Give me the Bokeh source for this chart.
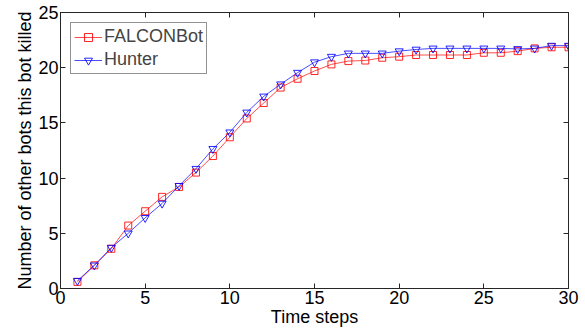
from bokeh.plotting import figure
from bokeh.models import LinearAxis, FixedTicker, Range1d, Legend, LegendItem
from bokeh.embed import file_html
from bokeh.resources import INLINE

steps = list(range(1, 31))
falconbot = [0.6, 2.1, 3.6, 5.7, 7.0, 8.3, 9.2, 10.5, 12.0, 13.7,
             15.4, 16.8, 18.2, 19.0, 19.7, 20.3, 20.6, 20.65, 20.9, 21.0,
             21.15, 21.15, 21.15, 21.15, 21.35, 21.35, 21.5, 21.75, 21.85, 21.85]
hunter = [0.7, 2.1, 3.7, 5.0, 6.4, 7.7, 9.3, 10.85, 12.65, 14.15,
          15.95, 17.4, 18.5, 19.55, 20.5, 21.0, 21.3, 21.3, 21.3, 21.5,
          21.65, 21.75, 21.75, 21.75, 21.75, 21.75, 21.7, 21.75, 22.0, 22.0]
x_ticks = [0, 5, 10, 15, 20, 25, 30]
y_ticks = [0, 5, 10, 15, 20, 25]

FONT = "Liberation Sans"
AXC = "#262626"

p = figure(frame_width=508, frame_height=276, output_backend="svg",
           toolbar_location=None, x_range=Range1d(0, 30), y_range=Range1d(0, 25),
           min_border_left=60, min_border_top=12, min_border_right=17,
           min_border_bottom=43)
p.background_fill_color = "white"
p.border_fill_color = "white"
p.outline_line_color = AXC
p.grid.visible = False

p.xaxis.ticker = FixedTicker(ticks=x_ticks)
p.yaxis.ticker = FixedTicker(ticks=y_ticks)
p.xaxis.axis_label = "Time steps"
p.yaxis.axis_label = "Number of other bots this bot killed"

for ax in [p.xaxis[0], p.yaxis[0]]:
    ax.major_tick_in = 5
    ax.major_tick_out = 0
    ax.minor_tick_line_color = None
    ax.axis_line_color = AXC
    ax.major_tick_line_color = AXC
    ax.major_label_text_font = FONT
    ax.major_label_text_font_size = "18px"
    ax.major_label_text_color = "black"
    ax.axis_label_text_font = FONT
    ax.axis_label_text_font_size = "18px"
    ax.axis_label_text_font_style = "normal"
    ax.axis_label_text_color = "black"
    ax.major_label_standoff = 2
    ax.axis_label_standoff = 0

top = LinearAxis(ticker=FixedTicker(ticks=x_ticks), major_tick_in=5, major_tick_out=0,
                 minor_tick_line_color=None, axis_line_color=AXC,
                 major_tick_line_color=AXC, major_label_text_color=None)
right = LinearAxis(ticker=FixedTicker(ticks=y_ticks), major_tick_in=5, major_tick_out=0,
                   minor_tick_line_color=None, axis_line_color=AXC,
                   major_tick_line_color=AXC, major_label_text_color=None)
p.add_layout(top, "above")
p.add_layout(right, "right")

r1 = p.line(steps, falconbot, line_color="#ff0000", line_width=1, line_alpha=0.7)
m1 = p.scatter(steps, falconbot, marker="square", size=7, line_color="#ff0000",
               fill_color=None, line_width=1, line_alpha=0.85)
r2 = p.line(steps, hunter, line_color="#0000ff", line_width=1, line_alpha=0.7)
m2 = p.scatter(steps, hunter, marker="inverted_triangle", size=8, line_color="#0000ff",
               fill_color=None, line_width=1, line_alpha=0.85)

legend = Legend(items=[LegendItem(label="FALCONBot", renderers=[r1, m1]),
                       LegendItem(label="Hunter", renderers=[r2, m2])],
                location="top_left")
legend.label_text_font = FONT
legend.label_text_font_size = "18px"
legend.border_line_color = AXC
legend.border_line_width = 1
legend.margin = 10
legend.padding = 3
legend.spacing = 2
legend.glyph_width = 28
legend.label_standoff = 2
legend.label_height = 20
legend.glyph_height = 20
p.add_layout(legend)

open("out.html", "w").write(file_html(p, INLINE))
